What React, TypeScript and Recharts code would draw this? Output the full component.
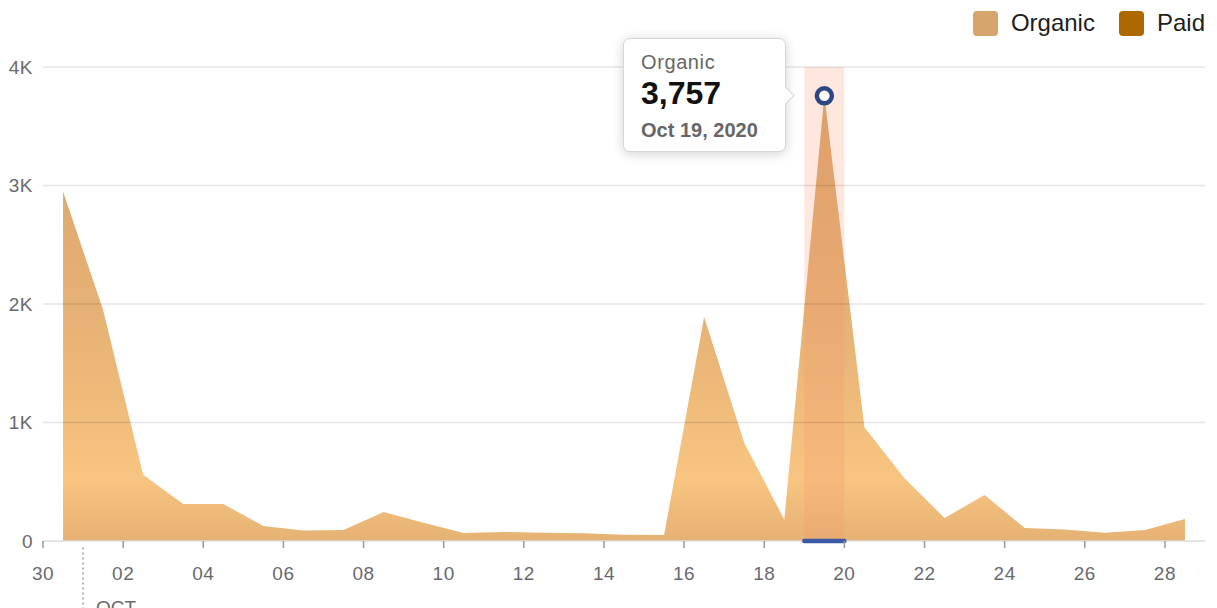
import React from 'react';
import {
  AreaChart,
  Area,
  XAxis,
  YAxis,
  Tooltip,
  Legend,
  ReferenceArea,
  ReferenceLine,
  ReferenceDot,
} from 'recharts';

// ---- data ----
const dateLabels = [
  'Sep 30, 2020', 'Oct 1, 2020', 'Oct 2, 2020', 'Oct 3, 2020', 'Oct 4, 2020',
  'Oct 5, 2020', 'Oct 6, 2020', 'Oct 7, 2020', 'Oct 8, 2020', 'Oct 9, 2020',
  'Oct 10, 2020', 'Oct 11, 2020', 'Oct 12, 2020', 'Oct 13, 2020', 'Oct 14, 2020',
  'Oct 15, 2020', 'Oct 16, 2020', 'Oct 17, 2020', 'Oct 18, 2020', 'Oct 19, 2020',
  'Oct 20, 2020', 'Oct 21, 2020', 'Oct 22, 2020', 'Oct 23, 2020', 'Oct 24, 2020',
  'Oct 25, 2020', 'Oct 26, 2020', 'Oct 27, 2020', 'Oct 28, 2020',
];
const organicValues = [
  2950, 1950, 560, 312, 312, 127, 88, 93, 245, 155,
  68, 76, 70, 65, 52, 50, 1890, 830, 180, 3757,
  960, 530, 194, 388, 110, 98, 70, 93, 185,
];
const xTickValues = [0, 2, 4, 6, 8, 10, 12, 14, 16, 18, 20, 22, 24, 26, 28];
const xTickLabels = ['30', '02', '04', '06', '08', '10', '12', '14', '16', '18', '20', '22', '24', '26', '28'];
const yTickValues = [0, 1000, 2000, 3000, 4000];
const yTickLabels = ['0', '1K', '2K', '3K', '4K'];
const gridValues = [1000, 2000, 3000, 4000];
const legendItems = [
  { name: 'Organic', color: '#d6a56c' },
  { name: 'Paid', color: '#ad6800' },
];
const highlightIndex = 19;
const monthMarker = { day: 1, label: 'OCT' };

const chartData = organicValues.map((v, i) => ({
  x: i + 0.5,
  organic: v,
  date: dateLabels[i],
}));

const FONT = '"Liberation Sans", Arial, sans-serif';

const TooltipBox = ({ payload }: any) => {
  if (!payload || !payload.length) return null;
  const p = payload[0];
  return (
    <div
      style={{
        position: 'relative',
        width: 163,
        height: 114,
        boxSizing: 'border-box',
        background: '#fff',
        border: '1px solid #d6d6d6',
        borderRadius: 7,
        boxShadow: '0 2px 12px rgba(0,0,0,0.18)',
        fontFamily: FONT,
        paddingLeft: 17,
        paddingTop: 11,
      }}
    >
      <div
        style={{
          position: 'absolute',
          right: -7,
          top: 50,
          width: 12,
          height: 12,
          background: '#fff',
          borderTop: '1px solid #d6d6d6',
          borderRight: '1px solid #d6d6d6',
          transform: 'rotate(45deg)',
        }}
      />
      <div style={{ fontSize: 20, lineHeight: '24px', color: '#666', letterSpacing: 0.6 }}>Organic</div>
      <div style={{ fontSize: 32, lineHeight: '38px', color: '#111', fontWeight: 'bold' }}>
        {Number(p.value).toLocaleString('en-US')}
      </div>
      <div style={{ fontSize: 20, lineHeight: '36px', color: '#666', fontWeight: 'bold' }}>
        {p.payload.date}
      </div>
    </div>
  );
};

const LegendBox = () => (
  <div style={{ display: 'flex', alignItems: 'center', fontFamily: FONT }}>
    {legendItems.map((it, i) => (
      <div key={it.name} style={{ display: 'flex', alignItems: 'center', marginLeft: i === 0 ? 0 : 24 }}>
        <div style={{ width: 25, height: 25, borderRadius: 4, background: it.color }} />
        <span style={{ fontSize: 24, color: '#1e1e1e', marginLeft: 13 }}>{it.name}</span>
      </div>
    ))}
  </div>
);

export default function App() {
  return (
    <AreaChart
      width={1209}
      height={600}
      data={chartData}
      margin={{ top: 59, right: 12, bottom: 37, left: 0 }}
    >
      <defs>
        <linearGradient id="orgGrad" x1="0" y1="0" x2="0" y2="1">
          <stop offset="0%" stopColor="#d7a369" />
          <stop offset="50%" stopColor="#e6b275" />
          <stop offset="86%" stopColor="#f8c481" />
          <stop offset="100%" stopColor="#e6b274" />
        </linearGradient>
      </defs>
      <XAxis
        dataKey="x"
        type="number"
        domain={[0, 29]}
        ticks={xTickValues}
        interval={0}
        tickFormatter={(v: number) => xTickLabels[xTickValues.indexOf(v)]}
        height={30}
        tickSize={7}
        tickMargin={19}
        axisLine={false}
        tickLine={{ stroke: '#9a9a9a', strokeWidth: 1.5 }}
        tick={{ fill: '#6a6a6e', fontSize: 19, fontFamily: FONT, letterSpacing: 0.5 }}
      />
      <YAxis
        type="number"
        domain={[0, 4000]}
        ticks={yTickValues}
        interval={0}
        tickFormatter={(v: number) => yTickLabels[yTickValues.indexOf(v)]}
        width={35}
        axisLine={false}
        tickLine={false}
        tickSize={5}
        tickMargin={5}
        tick={{ fill: '#6a6a6e', fontSize: 19, fontFamily: FONT, letterSpacing: 0.5 }}
      />
      <Area
        type="linear"
        dataKey="organic"
        stroke="none"
        fill="url(#orgGrad)"
        fillOpacity={1}
        isAnimationActive={false}
        activeDot={{ r: 7.5, fill: '#fff', stroke: '#2d4685', strokeWidth: 4.5 }}
      />
      <ReferenceArea
        x1={highlightIndex}
        x2={highlightIndex + 1}
        y1={0}
        y2={4000}
        fill="#f4906c"
        fillOpacity={0.22}
        stroke="none"
        ifOverflow="visible"
      />
      {gridValues.map((g) => (
        <ReferenceLine key={g} y={g} stroke="rgba(0,0,0,0.1)" strokeWidth={1.5} ifOverflow="visible" />
      ))}
      <ReferenceLine y={0} stroke="#dcdcdc" strokeWidth={1.5} ifOverflow="visible" />
      <ReferenceLine
        segment={[
          { x: highlightIndex, y: 0 },
          { x: highlightIndex + 1, y: 0 },
        ]}
        stroke="#3b5aa3"
        strokeWidth={4.5}
        strokeLinecap="round"
        ifOverflow="visible"
      />
      <ReferenceLine
        segment={[
          { x: monthMarker.day, y: -55 },
          { x: monthMarker.day, y: -620 },
        ]}
        stroke="#9a9a9a"
        strokeWidth={1.5}
        strokeDasharray="2 3"
        ifOverflow="visible"
      />
      <ReferenceDot
        x={monthMarker.day}
        y={-560}
        r={0}
        fill="none"
        stroke="none"
        ifOverflow="visible"
        label={{ value: monthMarker.label, position: 'right', offset: 13, fill: '#6a6a6e', fontSize: 19, fontFamily: FONT }}
      />
      <Legend
        layout="horizontal"
        verticalAlign="middle"
        align="center"
        content={() => <LegendBox />}
        wrapperStyle={{ top: 1, right: 12, left: 'auto', width: 'auto' }}
      />
      <Tooltip
        active
        defaultIndex={highlightIndex}
        cursor={false}
        isAnimationActive={false}
        position={{ x: 615, y: 30 }}
        content={<TooltipBox />}
        wrapperStyle={{ outline: 'none' }}
      />
    </AreaChart>
  );
}
